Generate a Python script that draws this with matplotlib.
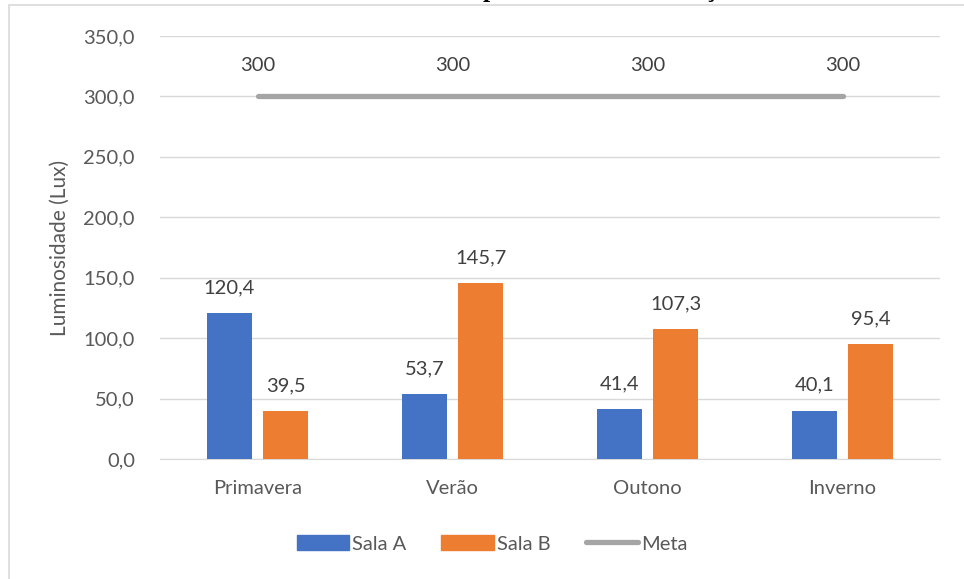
import matplotlib
matplotlib.use("Agg")
import matplotlib.pyplot as plt
from matplotlib.patches import Rectangle
from matplotlib.lines import Line2D
import numpy as np

plt.rcParams.update({
    "font.family": ["Lato", "DejaVu Sans"],
    "font.size": 14,
})

estacoes = ["Primavera", "Verão", "Outono", "Inverno"]
sala_a = [120.4, 53.7, 41.4, 40.1]
sala_b = [39.5, 145.7, 107.3, 95.4]
meta = [300, 300, 300, 300]
y_ticks = [0, 50, 100, 150, 200, 250, 300, 350]

C_A = "#4472C4"
C_B = "#ED7D31"
C_META = "#A5A5A5"
TXT = "#595959"
GRID = "#D9D9D9"
FS = 14.5

fig = plt.figure(figsize=(9.64, 5.79), dpi=100)
ax = fig.add_axes([160 / 964, 1 - 459 / 579, 780 / 964, 423 / 579])

x = np.arange(len(estacoes))
w = 0.23
off = 0.144

bars_a = ax.bar(x - off, sala_a, w, color=C_A, zorder=3, label="Sala A")
bars_b = ax.bar(x + off, sala_b, w, color=C_B, zorder=3, label="Sala B")
ax.plot(x, meta, color=C_META, lw=3.8, solid_capstyle="round", zorder=3, label="Meta")

def fmt(v):
    return f"{v:.1f}".replace(".", ",")

for bars, vals in ((bars_a, sala_a), (bars_b, sala_b)):
    for b, v in zip(bars, vals):
        ax.annotate(fmt(v), (b.get_x() + b.get_width() / 2, v),
                    xytext=(0, 12), textcoords="offset points",
                    ha="center", va="bottom", fontsize=FS, color="#404040")
for xi, v in zip(x, meta):
    ax.annotate(f"{v}", (xi, v), xytext=(0, 16), textcoords="offset points",
                ha="center", va="bottom", fontsize=FS, color="#404040")

ax.set_xlim(-0.5, len(estacoes) - 0.5)
ax.set_ylim(0, 350)
ax.set_yticks(y_ticks)
ax.set_yticklabels([fmt(t) for t in y_ticks], color=TXT, fontsize=FS)
ax.set_xticks(x)
ax.set_xticklabels(estacoes, color=TXT, fontsize=FS)
ax.tick_params(axis="both", length=0)
ax.tick_params(axis="y", pad=18)
ax.tick_params(axis="x", pad=15)
ax.grid(axis="y", color=GRID, lw=1, zorder=0)
for s in ("top", "right", "left"):
    ax.spines[s].set_visible(False)
ax.spines["bottom"].set_color(GRID)
ax.set_ylabel("Luminosidade (Lux)", color=TXT, fontsize=15, labelpad=10)

# title, mostly cut off at the top of the picture (only descenders visible)
fig.text(415 / 964, 1.0 + 2.5 / 579, "Média de luminosidade das salas no período de cada estação",
         ha="center", va="baseline", fontsize=18.4, fontweight="bold",
         family="Liberation Serif", color="black")

# chart border
fig.add_artist(Rectangle((9 / 964, -0.05), 1.0, 1 - 5 / 579 + 0.05,
                         transform=fig.transFigure, fill=False,
                         ec="#D9D9D9", lw=1.2))

handles = [Rectangle((0, 0), 1, 1, color=C_A),
           Rectangle((0, 0), 1, 1, color=C_B),
           Line2D([0], [0], color=C_META, lw=3.8, solid_capstyle="round")]
fig.legend(handles, ["Sala A", "Sala B", "Meta"], loc="center",
           bbox_to_anchor=(492 / 964, 1 - 544 / 579), ncol=3, frameon=False,
           fontsize=FS, labelcolor=TXT, handlelength=2.6, handleheight=0.75,
           handletextpad=0.15, columnspacing=1.75)

fig.savefig("out.png", dpi=100)
